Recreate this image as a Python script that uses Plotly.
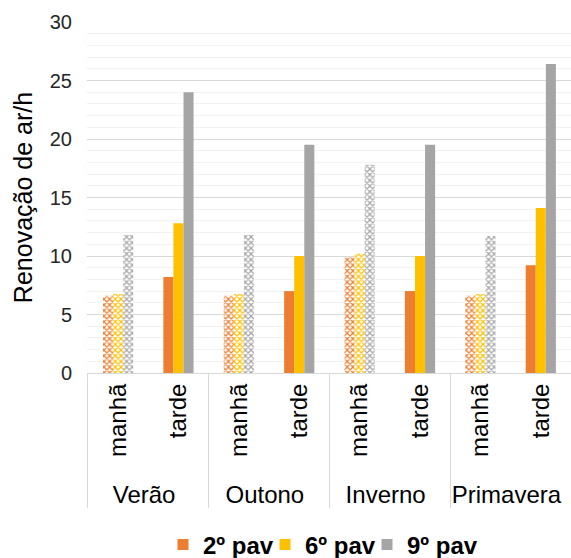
import plotly.graph_objects as go

seasons = ["Verão", "Outono", "Inverno", "Primavera"]
periods = ["manhã", "tarde"]
series_names = ["2º pav", "6º pav", "9º pav"]
colors = ["#ED7D31", "#FFC000", "#A5A5A5"]

# values per season: [manhã, tarde]
v2 = [6.6, 8.2, 6.6, 7.0, 9.9, 7.0, 6.6, 9.2]
v6 = [6.75, 12.8, 6.75, 10.0, 10.2, 10.0, 6.75, 14.1]
v9 = [11.8, 24.0, 11.8, 19.5, 17.8, 19.5, 11.7, 26.4]
values = [v2, v6, v9]

outer = [s for s in seasons for _ in periods]
inner = [p for _ in seasons for p in periods]

fig = go.Figure()
for name, col, vals in zip(series_names, colors, values):
    shapes = ["x" if p == "manhã" else "" for p in inner]
    fig.add_trace(go.Bar(
        x=[outer, inner], y=vals, name=name, showlegend=False,
        marker=dict(color=col, line=dict(width=0),
                    pattern=dict(shape=shapes, fgcolor=col, bgcolor="white",
                                 size=4, solidity=0.5, fillmode="replace")),
    ))
for name, col in zip(series_names, colors):
    fig.add_trace(go.Scatter(
        x=[[seasons[0]], [periods[0]]], y=[None], name=name, mode="markers",
        marker=dict(symbol="square", size=11, color=col), showlegend=True,
    ))
# invisible spacer entry so the last legend label is not clipped
fig.add_trace(go.Scatter(
    x=[[seasons[0]], [periods[0]]], y=[None], name="\u00a0", mode="markers",
    marker=dict(symbol="square", size=1, color="rgba(0,0,0,0)"), showlegend=True,
    hoverinfo="skip",
))

fig.update_layout(
    width=571, height=558,
    margin=dict(l=87, r=0, t=22, b=185),
    paper_bgcolor="white", plot_bgcolor="white",
    barmode="group", bargap=0.5, bargroupgap=0,
    font=dict(family="Liberation Sans, Arial, sans-serif", size=20, color="#262626"),
    legend=dict(orientation="h", x=0.16, xanchor="left",
                yref="container", y=(558 - 545) / 558, yanchor="middle",
                font=dict(size=24, color="#000000", weight="bold"),
                itemwidth=30, tracegroupgap=0, entrywidth=57, entrywidthmode="pixels"),
    yaxis=dict(range=[0, 30], dtick=5, showgrid=True, gridcolor="#d9d9d9", gridwidth=1,
               minor=dict(dtick=1, showgrid=True, gridcolor="#f2f2f2", gridwidth=1),
               zeroline=False, showline=False, ticks="", ticklabelstandoff=14,
               tickfont=dict(size=20, color="#262626"), automargin=False,
               title=dict(text="Renovação de ar/h", font=dict(size=25, color="#000000"), standoff=10)),
    xaxis=dict(type="multicategory", showline=True, linecolor="#d9d9d9", linewidth=1,
               showdividers=True, dividercolor="#d9d9d9", dividerwidth=1,
               tickangle=-90, ticks="outside", ticklen=15, tickcolor="rgba(0,0,0,0)",
               tickfont=dict(size=24, color="#000000"),
               showgrid=False, automargin=False),
)

fig.write_html("out.html", config={"displayModeBar": False},
               post_script="document.body.style.margin='0';document.body.style.overflow='hidden';")
